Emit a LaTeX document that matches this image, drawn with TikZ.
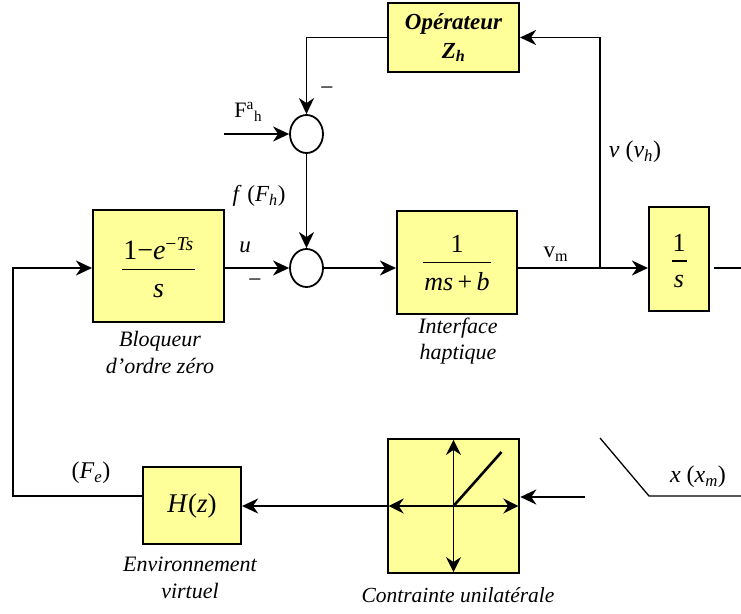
\documentclass[tikz,border=0pt]{standalone}
\usepackage{fontspec}
\setmainfont{Liberation Serif}
\usetikzlibrary{arrows.meta,shapes.geometric}
\definecolor{boxy}{RGB}{255,255,153}
\newcommand{\myfrac}[4]{\raisebox{#4}[\height][\depth]{\begin{tabular}{@{\hspace{1pt}}c@{\hspace{1pt}}}#1\\\hline\rule{0pt}{#3}#2\end{tabular}}}
\setlength{\arrayrulewidth}{1.4pt}
\begin{document}
\begin{tikzpicture}[x=1pt,y=-1pt,
  blk/.style={draw=black, line width=2.1pt, fill=boxy, inner sep=0pt, align=center},
  sumn/.style={draw=black, ellipse, fill=white, line width=1.8pt, inner sep=0pt, minimum width=33pt, minimum height=38pt},
  wire/.style={line width=1.9pt},
  arr/.style={line width=1.9pt, -{Stealth[length=16pt,width=15pt,inset=5pt]}},
  darr/.style={line width=1.8pt, {Stealth[length=15pt,width=15pt,inset=5pt]}-{Stealth[length=15pt,width=15pt,inset=5pt]}},
  lbl/.style={font=\fontsize{23}{27}\selectfont, align=center, inner sep=0pt},
  captext/.style={font=\fontsize{22}{27}\selectfont\itshape, align=center, inner sep=0pt}
]
\useasboundingbox (0,0) rectangle (741,613);

% blocks
\node[blk, minimum width=131pt, minimum height=69pt, font=\fontsize{23}{29}\selectfont\bfseries\itshape] (op) at (453.5,37.5) {Opérateur\\Z\textsubscript{h}};
\node[blk, minimum width=131pt, minimum height=112pt, font=\fontsize{28}{30}\selectfont] (bz) at (158.5,266) {\myfrac{1−\textit{e}\textsuperscript{−\textit{Ts}}}{\textit{s}}{27pt}{-6pt}};
\node[blk, minimum width=120pt, minimum height=103pt, font=\fontsize{26}{30}\selectfont] (ih) at (457,262.5) {\myfrac{1}{\textit{ms}\,+\,\textit{b}}{27pt}{-3pt}};
\node[blk, minimum width=60pt, minimum height=104pt, font=\fontsize{26}{28}\selectfont] (in) at (679,259) {\myfrac{1}{\textit{s}}{26pt}{-5pt}};
\node[blk, minimum width=98pt, minimum height=77pt, font=\fontsize{27}{30}\selectfont] (hz) at (192,505.5) {\textit{H}(\textit{z})};
\node[blk, minimum width=131.5pt, minimum height=134pt] (ct) at (453.5,506) {};

% summing junctions
\node[sumn] (s1) at (306.5,134) {};
\node[sumn] (s2) at (306.5,268) {};

% coordinates
\coordinate (fa) at (224,134);
\coordinate (fbl) at (13,496);
\coordinate (fbt) at (13,268);
\coordinate (j) at (600,268);
\coordinate (o1) at (714,268);
\coordinate (o2) at (741,268);
\coordinate (xi) at (585,497);
\coordinate (d1) at (600,438);
\coordinate (d2) at (649,496);
\coordinate (d3) at (741,496);

% connectors
\draw[arr] (op.west) -| (s1.north);
\draw[arr] (fa) -- (s1.west);
\draw[arr] (s1.south) -- (s2.north);
\draw[arr] (hz.west |- fbl) -- (fbl) -- (fbt) -- (fbt -| bz.west);
\draw[arr] (bz.east |- s2) -- (s2.west);
\draw[arr] (s2.east) -- (s2.east -| ih.west);
\draw[arr] (ih.east |- s2) -- (s2 -| in.west);
\draw[arr] (j) |- (op.east);
\draw[wire] (o1) -- (o2);
\draw[arr] (ct.west) -- (ct.west -| hz.east);
\draw[arr] (xi) -- (xi -| ct.east);
\draw[line width=1.3pt] (d1) -- (d2) -- (d3);

% characteristic inside constraint block
\draw[darr] ([yshift=-2pt]ct.north) -- ([yshift=2pt]ct.south);
\draw[darr] ([xshift=2pt]ct.west) -- ([xshift=-2pt]ct.east);
\draw[line width=2.6pt] (ct.center) -- ++(48,-54);

% labels
\node[lbl, font=\fontsize{24}{27}\selectfont] (m1) at (327,91) {−};
\node[lbl, font=\fontsize{22}{27}\selectfont] (fah) at (248,112) {F\textsuperscript{a}\raisebox{-4pt}{\fontsize{15}{17}\selectfont h}};
\node[lbl] (ff) at (259,196) {\textit{f} (\textit{F}\textsubscript{\textit{h}})};
\node[lbl] (u) at (245,247) {\textit{u}};
\node[lbl, font=\fontsize{24}{27}\selectfont] (m2) at (255,283) {−};
\node[lbl] (vm) at (556,254) {v\textsubscript{m}};
\node[lbl, font=\fontsize{24}{27}\selectfont] (vv) at (635,152) {\textit{v} (\textit{v}\textsubscript{\textit{h}})};
\node[lbl, font=\fontsize{24}{27}\selectfont] (fe) at (91,473) {(\textit{F}\textsubscript{\textit{e}})};
\node[lbl, font=\fontsize{24}{27}\selectfont] (xx) at (698,477) {\textit{x} (\textit{x}\textsubscript{\textit{m}})};
\node[captext] (lbz) at (160,352.5) {Bloqueur\\d’ordre zéro};
\node[captext, font=\fontsize{22}{26}\selectfont\itshape] (lih) at (458,341) {Interface\\haptique};
\node[captext] (lhz) at (190,577.5) {Environnement\\virtuel};
\node[captext, font=\fontsize{21.5}{27}\selectfont\itshape] (lct) at (458,595) {Contrainte unilatérale};
\end{tikzpicture}
\end{document}
